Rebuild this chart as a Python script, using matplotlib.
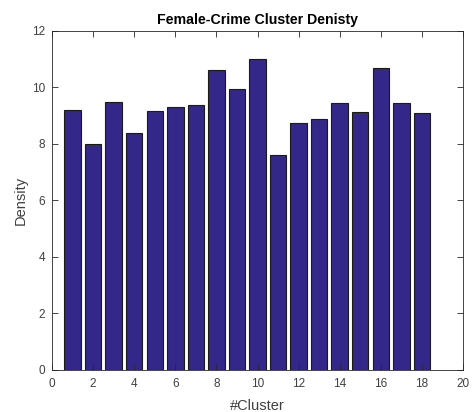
import matplotlib
matplotlib.use('Agg')
import matplotlib.pyplot as plt
import numpy as np

plt.rcParams['font.family'] = ['Liberation Sans', 'DejaVu Sans']

# 每个聚类的密度
clusters = np.arange(1, 19)
density = [9.20, 8.00, 9.48, 8.39, 9.17, 9.31, 9.38, 10.60, 9.93,
           11.01, 7.59, 8.74, 8.86, 9.45, 9.14, 10.67, 9.45, 9.10]

fig = plt.figure(figsize=(4.73, 4.12), dpi=100)
ax = fig.add_axes([52 / 473, 1 - 370 / 412, (463 - 52) / 473, (370 - 30.7) / 412])

ax.bar(clusters, density, width=0.8, color='#33288a', edgecolor='#1a1a1a', linewidth=0.8)

ax.set_xlim(0, 20)
ax.set_ylim(0, 12)
ax.set_xticks(range(0, 21, 2))
ax.set_yticks(range(0, 13, 2))

axis_gray = '#262626'
for s in ax.spines.values():
    s.set_color(axis_gray)
    s.set_linewidth(0.6)
ax.tick_params(direction='in', length=4, width=0.6, colors=axis_gray,
               top=True, right=True, labelsize=8.5, labelcolor='#404040')
ax.tick_params(axis='x', pad=6)
ax.tick_params(axis='y', pad=5)

ax.set_title('Female-Crime Cluster Denisty', fontsize=10.2, fontweight='bold', pad=5)
ax.set_xlabel('#Cluster', fontsize=10.5, color='#404040', labelpad=6)
ax.set_ylabel('Density', fontsize=10.5, color='#404040', labelpad=3)

fig.savefig('out.png', dpi=100)
